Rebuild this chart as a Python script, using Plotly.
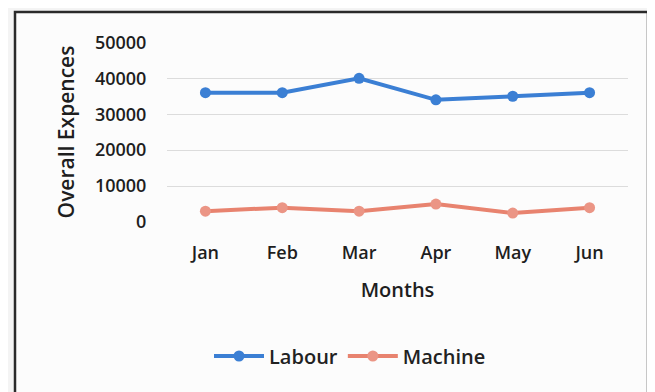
import plotly.graph_objects as go

months = ["Jan", "Feb", "Mar", "Apr", "May", "Jun"]
labour = [36000, 36000, 40000, 34000, 35000, 36000]
machine = [3000, 4000, 3000, 5000, 2500, 4000]
y_ticks = [0, 10000, 20000, 30000, 40000, 50000]
y_tick_text = ["0", "10000", "20000", "30000", "40000", "50000"]

FONT = "Open Sans, Liberation Sans, Arial"

fig = go.Figure()
fig.add_trace(go.Scatter(x=months, y=labour, name="Labour", mode="lines+markers",
                         line=dict(color="#3b7fd4", width=4),
                         marker=dict(size=11, color="#3b7fd4")))
fig.add_trace(go.Scatter(x=months, y=machine, name="Machine", mode="lines+markers",
                         line=dict(color="#e8836f", width=4),
                         marker=dict(size=11, color="#eb9585")))

# page offset (browser body margin)
O = 8
L, R, T, B = 167, 628, 42, 222
W, H = 655, 392
pw, ph = R - L, B - T

def px(x):
    return (x - L) / pw

def py(y):
    return (B - y) / ph

fig.update_layout(
    width=W - O, height=H - O,
    margin=dict(l=L - O, r=W - R, t=T - O, b=H - B),
    paper_bgcolor="#f4f4f4",
    plot_bgcolor="rgba(0,0,0,0)",
    font=dict(family=FONT, color="#1e1e1e", size=18, weight=600),
    showlegend=True,
    legend=dict(orientation="h", xref="container", yref="container",
                x=(350 - O) / (W - O), y=1 - (356 - O) / (H - O), xanchor="center", yanchor="middle",
                itemwidth=50, font=dict(size=20, color="#222", weight=600), bgcolor="rgba(0,0,0,0)"),
    shapes=[
        dict(type="rect", xref="paper", yref="paper", x0=px(15), x1=px(648), y0=py(400), y1=py(12),
             line=dict(color="#2a2a2a", width=2.5), fillcolor="#fcfcfc", layer="below"),
    ],
    xaxis=dict(range=[-0.5, 5.5], showgrid=False, showline=False, zeroline=False, ticks="outside",
               ticklen=14, tickcolor="rgba(0,0,0,0)", tickfont=dict(size=18), automargin=False,
               title=dict(text="Months", font=dict(size=20), standoff=20)),
    yaxis=dict(range=[0, 50100], tickvals=y_ticks, ticktext=y_tick_text, showgrid=True,
               gridcolor="#dcdcdc", gridwidth=1.2, automargin=False,
               zeroline=False, showline=False, ticks="outside", ticklen=16,
               tickcolor="rgba(0,0,0,0)", tickfont=dict(size=18),
               title=dict(text="Overall Expences", font=dict(size=21), standoff=14)),
)
fig.update_traces(cliponaxis=False)
fig.write_html("out.html")
